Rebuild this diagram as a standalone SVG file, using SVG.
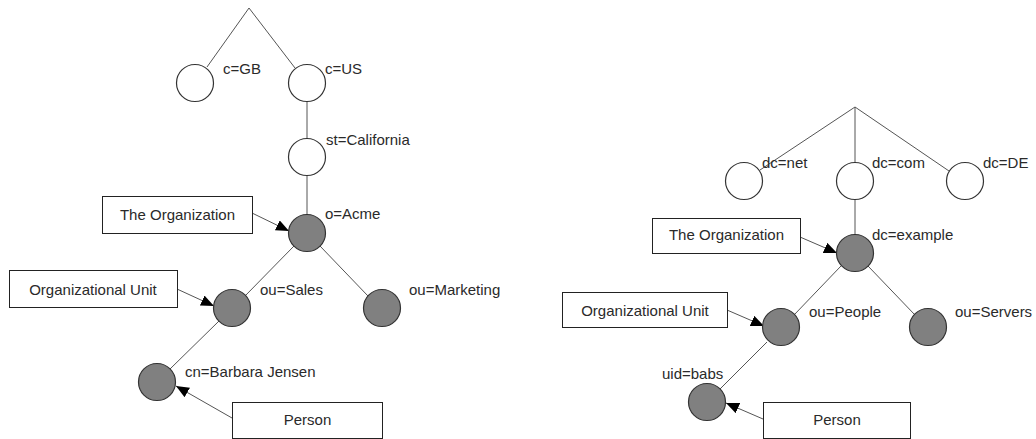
<svg xmlns="http://www.w3.org/2000/svg" width="1036" height="439" viewBox="0 0 1036 439">
<style>
text{font-family:"Liberation Sans",Arial,sans-serif;font-size:15px;fill:#2a2a2a}
.box{fill:#fff;stroke:#222;stroke-width:1}
.c{stroke:#333;stroke-width:1.2}
.open{fill:#fff}
.full{fill:#808080}
.edge{stroke:#555;stroke-width:1;fill:none}
.arr{stroke:#555;stroke-width:1;fill:none;marker-end:url(#ah)}
.mid{text-anchor:middle}
</style>
<defs>
<marker id="ah" markerUnits="userSpaceOnUse" markerWidth="13" markerHeight="11" refX="13" refY="5.5" orient="auto">
<path d="M0,0 L13,5.5 L0,11 z" fill="#000"/>
</marker>
</defs>
<g id="connectors">
<polyline class="edge" points="207,67 249,8 295,68"/>
<line class="edge" x1="307" y1="101" x2="307" y2="139"/>
<line class="edge" x1="307" y1="176" x2="307" y2="214"/>
<line class="edge" x1="294" y1="246" x2="245" y2="296"/>
<line class="edge" x1="320" y1="246" x2="368" y2="296"/>
<line class="edge" x1="219" y1="321" x2="170" y2="369"/>
<line class="arr" x1="252" y1="213" x2="289" y2="231"/>
<line class="arr" x1="177" y1="289" x2="214" y2="306"/>
<line class="arr" x1="232" y1="418" x2="176" y2="386"/>
<polyline class="edge" points="760,170 855,107 949,171"/>
<line class="edge" x1="855" y1="107" x2="855" y2="163"/>
<line class="edge" x1="855" y1="200" x2="855" y2="235"/>
<line class="edge" x1="841" y1="266" x2="794" y2="315"/>
<line class="edge" x1="868" y1="266" x2="915" y2="315"/>
<line class="edge" x1="767" y1="342" x2="720" y2="389"/>
<line class="arr" x1="800" y1="237" x2="837" y2="253"/>
<line class="arr" x1="727" y1="310" x2="764" y2="326"/>
<line class="arr" x1="763" y1="419" x2="726" y2="403"/>
</g>
<g id="left-cGB"><circle class="c open" cx="195" cy="83" r="18.5"/><text x="223" y="74">c=GB</text></g>
<g id="left-cUS"><circle class="c open" cx="307" cy="83" r="18.5"/><text x="325" y="74">c=US</text></g>
<g id="left-stCalifornia"><circle class="c open" cx="307" cy="157" r="18.5"/><text x="326" y="145">st=California</text></g>
<g id="left-oAcme"><circle class="c full" cx="307" cy="233" r="18.5"/><text x="325" y="219">o=Acme</text></g>
<g id="left-ouSales"><circle class="c full" cx="232" cy="308" r="18.5"/><text x="260" y="295">ou=Sales</text></g>
<g id="left-ouMarketing"><circle class="c full" cx="382" cy="308" r="18.5"/><text x="409" y="295">ou=Marketing</text></g>
<g id="left-cnBarbara"><circle class="c full" cx="157" cy="382" r="18.5"/><text x="185" y="377">cn=Barbara Jensen</text></g>
<g id="left-box-org"><rect class="box" x="102.5" y="196.5" width="150" height="37"/><text class="mid" x="177.5" y="219.5">The Organization</text></g>
<g id="left-box-ou"><rect class="box" x="9.5" y="270.5" width="168" height="37"/><text class="mid" x="93" y="295">Organizational Unit</text></g>
<g id="left-box-person"><rect class="box" x="232.5" y="402.5" width="150" height="36"/><text class="mid" x="307.5" y="425">Person</text></g>
<g id="right-dcnet"><circle class="c open" cx="744" cy="181" r="18.5"/><text x="762" y="168">dc=net</text></g>
<g id="right-dccom"><circle class="c open" cx="855" cy="181" r="18.5"/><text x="872" y="168">dc=com</text></g>
<g id="right-dcDE"><circle class="c open" cx="965" cy="181" r="18.5"/><text x="983" y="168">dc=DE</text></g>
<g id="right-dcexample"><circle class="c full" cx="855" cy="253" r="18.5"/><text x="872" y="240">dc=example</text></g>
<g id="right-ouPeople"><circle class="c full" cx="781" cy="327" r="18.5"/><text x="809" y="317">ou=People</text></g>
<g id="right-ouServers"><circle class="c full" cx="928" cy="327" r="18.5"/><text x="955" y="317">ou=Servers</text></g>
<g id="right-uidbabs"><circle class="c full" cx="707" cy="402" r="18.5"/><text x="662" y="379">uid=babs</text></g>
<g id="right-box-org"><rect class="box" x="652.5" y="218.5" width="148" height="35"/><text class="mid" x="726.5" y="240">The Organization</text></g>
<g id="right-box-ou"><rect class="box" x="562.5" y="292.5" width="165" height="35"/><text class="mid" x="645" y="316">Organizational Unit</text></g>
<g id="right-box-person"><rect class="box" x="763.5" y="402.5" width="147" height="36"/><text class="mid" x="837" y="425">Person</text></g>
</svg>
